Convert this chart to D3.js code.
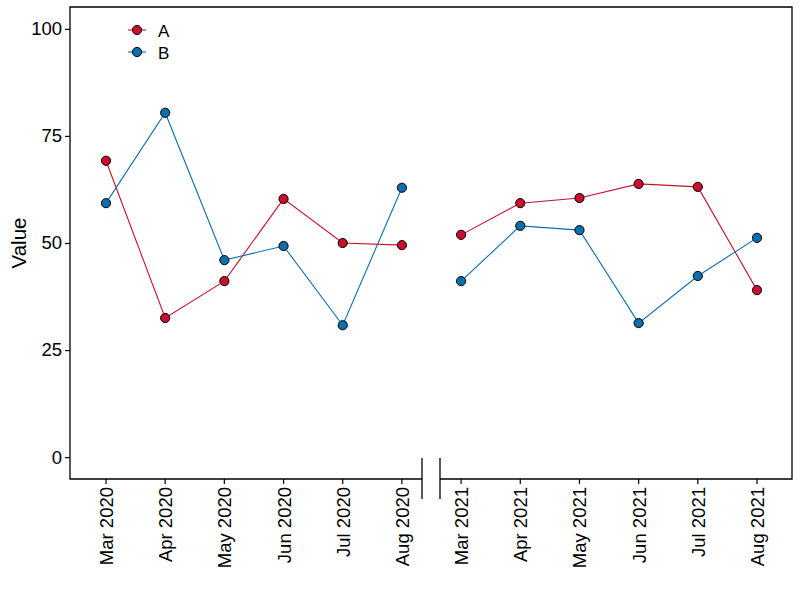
<!DOCTYPE html>
<html>
<head>
<meta charset="utf-8">
<script src="https://cdn.jsdelivr.net/npm/d3@7"></script>
<style>
  body { margin: 0; background: #fff; }
  text { font-family: "Liberation Sans", Arial, sans-serif; fill: #000; }
</style>
</head>
<body>
<script>
const months = ['Mar 2020', 'Apr 2020', 'May 2020', 'Jun 2020', 'Jul 2020', 'Aug 2020',
  'Mar 2021', 'Apr 2021', 'May 2021', 'Jun 2021', 'Jul 2021', 'Aug 2021']
const seriesA = [69.2, 32.5, 41.1, 60.3, 50.0, 49.5, 51.9, 59.3, 60.5, 63.8, 63.1, 39.0]
const seriesB = [59.3, 80.4, 46.0, 49.3, 30.8, 62.9, 41.1, 54.0, 53.0, 31.3, 42.3, 51.2]
const yTicks = [0, 25, 50, 75, 100]
const seriesNames = ['A', 'B']
const colors = ['#c8102e', '#0a6fae']

const W = 800, H = 600
const pLeft = 70, pRight = 792, pTop = 7, pBottom = 479
const breakL = 422, breakR = 440

const svg = d3.select('body').append('svg').attr('width', W).attr('height', H)

const y = d3.scaleLinear().domain([-5.1, 105.1]).range([pBottom, pTop])
const x = d3.scaleLinear().domain([0, months.length - 1]).range([106, 757])

// panel frame with gap at break
const frame = svg.append('g').attr('stroke', '#000').attr('stroke-width', 1.3).attr('fill', 'none')
frame.append('path').attr('d', `M${breakL},${pBottom}H${pLeft}V${pTop}H${pRight}V${pBottom}H${breakR}`)
frame.append('line').attr('x1', breakL).attr('x2', breakL).attr('y1', pBottom - 21).attr('y2', pBottom + 20)
frame.append('line').attr('x1', breakR).attr('x2', breakR).attr('y1', pBottom - 21).attr('y2', pBottom + 20)

// y axis
const yAxis = svg.append('g').attr('transform', `translate(${pLeft},0)`)
  .call(d3.axisLeft(y).tickValues(yTicks).tickSize(5).tickPadding(3))
yAxis.select('.domain').remove()
yAxis.selectAll('line').attr('stroke', '#000').attr('stroke-width', 1.2)
yAxis.selectAll('text').style('font-size', '18.5px').style('font-family', '"Liberation Sans", Arial, sans-serif').attr('fill', '#000')

// x axis ticks & labels
const xg = svg.append('g')
xg.selectAll('line').data(months).enter().append('line')
  .attr('x1', (d, i) => x(i)).attr('x2', (d, i) => x(i))
  .attr('y1', pBottom).attr('y2', pBottom + 5)
  .attr('stroke', '#000').attr('stroke-width', 1.2)
xg.selectAll('text').data(months).enter().append('text')
  .attr('transform', (d, i) => `translate(${x(i) + 7},${pBottom + 8}) rotate(-90)`)
  .attr('text-anchor', 'end')
  .style('font-size', '18.5px')
  .text(d => d)

svg.append('text')
  .attr('transform', `translate(26,${(pTop + pBottom) / 2}) rotate(-90)`)
  .attr('text-anchor', 'middle')
  .style('font-size', '20.5px')
  .text('Value')

// lines and points
const line = d3.line().x(d => x(d.i)).y(d => y(d.v))
;[seriesA, seriesB].forEach((vals, s) => {
  const pts = vals.map((v, i) => ({ i, v }))
  const g = svg.append('g')
  ;[pts.slice(0, 6), pts.slice(6)].forEach(seg => {
    g.append('path').attr('d', line(seg)).attr('fill', 'none')
      .attr('stroke', colors[s]).attr('stroke-width', 1.1)
  })
  g.selectAll('circle').data(pts).enter().append('circle')
    .attr('cx', d => x(d.i)).attr('cy', d => y(d.v)).attr('r', 4.6)
    .attr('fill', colors[s]).attr('stroke', '#000').attr('stroke-width', 1)
})

// legend
const lg = svg.append('g')
seriesNames.forEach((n, s) => {
  const ly = 30 + s * 22
  lg.append('line').attr('x1', 128).attr('x2', 146).attr('y1', ly).attr('y2', ly)
    .attr('stroke', colors[s]).attr('stroke-width', 1.1)
  lg.append('circle').attr('cx', 137).attr('cy', ly).attr('r', 4.6)
    .attr('fill', colors[s]).attr('stroke', '#000')
  lg.append('text').attr('x', 158).attr('y', ly + 6.5).style('font-size', '17px').text(n)
})
</script>
</body>
</html>
